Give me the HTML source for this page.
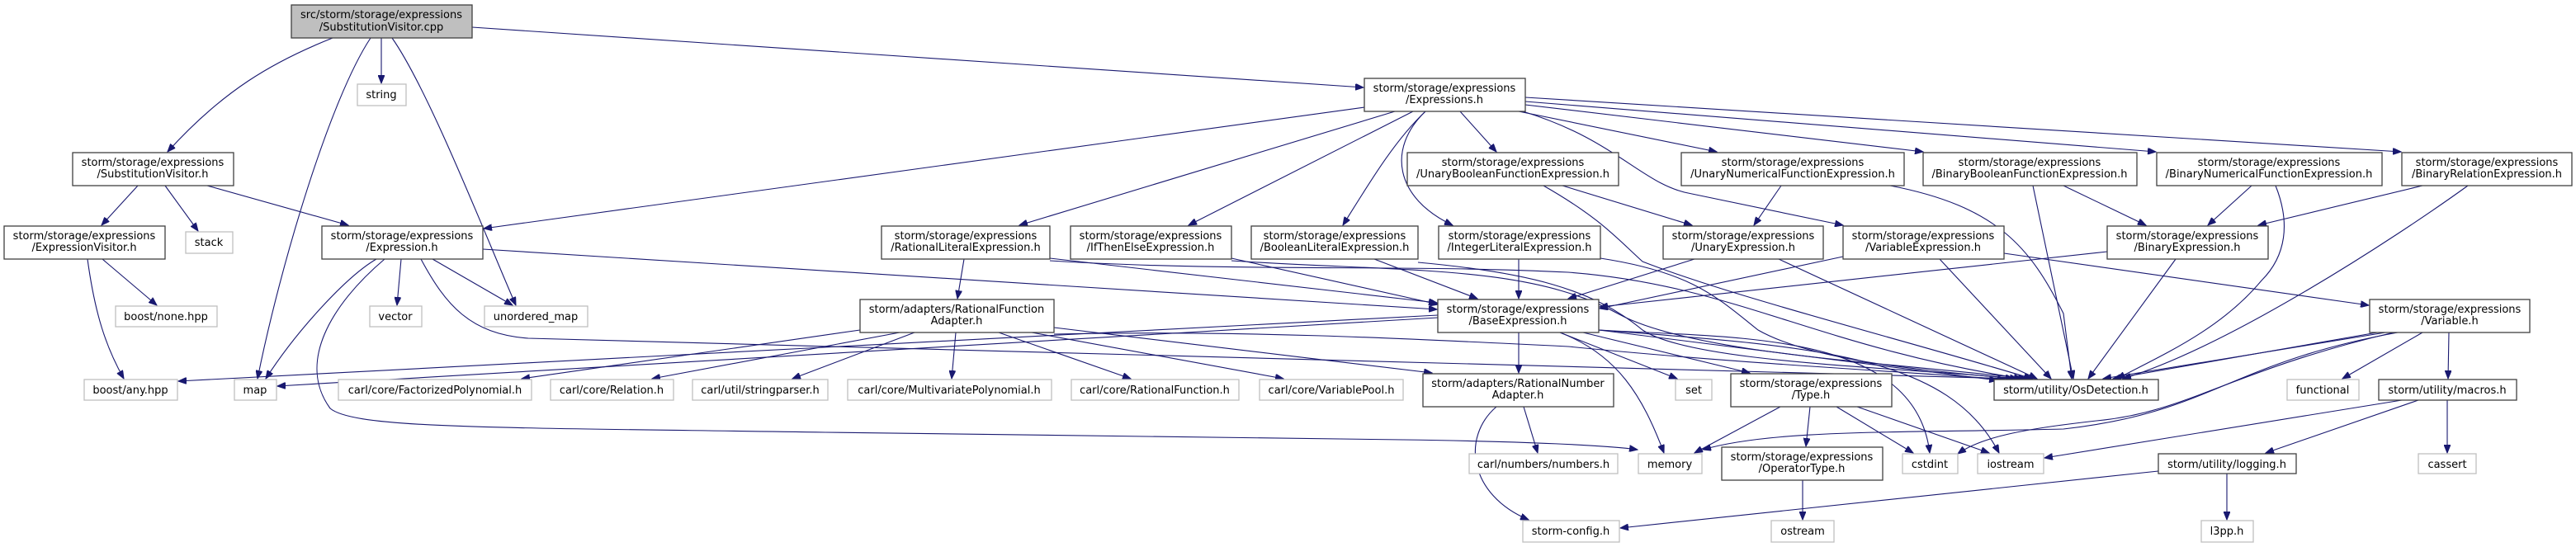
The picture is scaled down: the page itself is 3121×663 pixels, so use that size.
<!DOCTYPE html>
<html><head><meta charset="utf-8"><style>
html,body{margin:0;padding:0;background:#fff}
svg{display:block}
text{font-family:"DejaVu Sans","Liberation Sans",sans-serif;font-size:13px;fill:#000;text-anchor:middle}
.n{fill:#fff;stroke:#404040;stroke-width:1.3}
.g{fill:#fff;stroke:#bfbfbf;stroke-width:1.3}
.r{fill:#bfbfbf;stroke:#404040;stroke-width:1.3}
path{fill:none;stroke:#191970;stroke-width:1.1}
</style></head><body>
<svg width="3121" height="663" viewBox="0 0 3121 663" xmlns="http://www.w3.org/2000/svg">
<defs><marker id="a" markerUnits="userSpaceOnUse" markerWidth="11" markerHeight="8" refX="10" refY="4" orient="auto"><polygon points="0,0 10,4 0,8" style="fill:#191970;stroke:#191970"/></marker></defs>
<g marker-end="url(#a)">
<path d="M403,46 C330,75 270,110 203,184"/>
<path d="M462,46 L462,101"/>
<path d="M449,46 C400,120 340,320 312,459"/>
<path d="M475,46 C520,110 590,290 625,370"/>
<path d="M572,33 L1652,106"/>
<path d="M167,225 L123,273"/>
<path d="M200,225 L240,280"/>
<path d="M251,225 L422,273"/>
<path d="M124,314 L190,370"/>
<path d="M106,314 C115,380 128,420 150,459"/>
<path d="M456,314 C420,335 360,400 322,459"/>
<path d="M486,314 L481,370"/>
<path d="M524,314 L621,370"/>
<path d="M466,314 C400,370 360,440 400,495 C430,520 600,518 1000,524 L1700,533 C1850,535 1950,540 1984,545"/>
<path d="M585,302 L1741,375"/>
<path d="M510,314 C540,370 570,405 640,410 L2440,459"/>
<path d="M1653,130 L586,277"/>
<path d="M1690,135 L1235,273"/>
<path d="M1712,135 L1440,273"/>
<path d="M1727,135 C1690,170 1660,220 1627,273"/>
<path d="M1727,135 C1680,180 1690,240 1760,273"/>
<path d="M1769,135 L1813,184"/>
<path d="M1840,135 L2080,184"/>
<path d="M1848,127 L2330,184"/>
<path d="M1848,123 L2612,184"/>
<path d="M1848,118 L2909,184"/>
<path d="M1845,135 C1960,170 1990,225 2050,235 L2233,273"/>
<path d="M1893,225 L2050,273"/>
<path d="M1870,225 C1940,265 1960,290 1990,317 C2100,360 2300,410 2462,459"/>
<path d="M2158,225 L2125,273"/>
<path d="M2290,225 C2420,250 2460,300 2500,380 L2510,459"/>
<path d="M2500,225 L2600,273"/>
<path d="M2463,225 L2512,459"/>
<path d="M2728,225 L2675,273"/>
<path d="M2757,225 C2775,270 2770,310 2740,340 C2690,400 2620,430 2565,459"/>
<path d="M2935,225 L2736,273"/>
<path d="M2990,225 C2900,290 2700,420 2572,459"/>
<path d="M2553,305 L1938,372"/>
<path d="M2636,314 L2530,459"/>
<path d="M2233,311 L1938,374"/>
<path d="M2350,314 L2485,459"/>
<path d="M2428,307 L2870,370"/>
<path d="M2053,314 L1900,362"/>
<path d="M2155,314 L2468,459"/>
<path d="M1168,314 L1160,362"/>
<path d="M1272,313 L1741,367"/>
<path d="M1272,316 C1500,330 1700,320 1900,330 C2100,345 2200,420 2450,459"/>
<path d="M1492,313 L1743,369"/>
<path d="M1492,316 C1700,330 1850,320 1960,380 C2050,430 2300,440 2455,459"/>
<path d="M1665,314 L1790,362"/>
<path d="M1718,318 C1850,330 1930,350 1990,400 C2050,440 2300,445 2445,459"/>
<path d="M1840,314 L1840,362"/>
<path d="M1939,313 C2050,330 2080,360 2130,400 C2200,440 2350,450 2440,459"/>
<path d="M1840,403 L1840,452"/>
<path d="M1890,403 L2032,459"/>
<path d="M1918,403 L2120,452"/>
<path d="M1890,403 C1960,430 1990,480 2016,549"/>
<path d="M1937,400 C2100,410 2320,400 2338,549"/>
<path d="M1937,400 C2200,420 2360,430 2422,549"/>
<path d="M1937,400 L2420,461"/>
<path d="M1742,385 L336,468"/>
<path d="M1742,382 L216,462"/>
<path d="M1042,400 L632,459"/>
<path d="M1090,403 L790,459"/>
<path d="M1108,403 L960,459"/>
<path d="M1158,403 L1153,459"/>
<path d="M1210,403 L1370,459"/>
<path d="M1250,403 L1555,459"/>
<path d="M1277,397 L1735,452"/>
<path d="M1277,405 C1500,400 1700,410 1900,420 C2100,440 2300,450 2430,460"/>
<path d="M1846,493 L1863,549"/>
<path d="M1813,493 C1770,530 1780,600 1852,630"/>
<path d="M2157,493 L2053,549"/>
<path d="M2193,493 L2188,541"/>
<path d="M2225,493 L2318,549"/>
<path d="M2250,493 L2410,549"/>
<path d="M2184,582 L2184,630"/>
<path d="M2880,403 L2560,459"/>
<path d="M2890,403 L2548,459"/>
<path d="M2905,403 C2700,440 2680,500 2500,520 C2300,525 2150,520 2063,545"/>
<path d="M2900,403 C2700,450 2650,500 2540,510 C2450,520 2400,530 2372,550"/>
<path d="M2935,403 L2838,459"/>
<path d="M2967,403 L2966,459"/>
<path d="M2910,485 L2477,555"/>
<path d="M2930,485 L2745,549"/>
<path d="M2965,485 L2965,549"/>
<path d="M2615,571 L1963,640"/>
<path d="M2698,574 L2698,630"/>
</g>

<rect class="r" x="353" y="6" width="219" height="40"/><text x="462" y="22">src/storm/storage/expressions</text><text x="462" y="37">/SubstitutionVisitor.cpp</text>
<rect class="g" x="433" y="102" width="59" height="26"/><text x="462" y="119">string</text>
<rect class="n" x="88" y="185" width="195" height="40"/><text x="185" y="201">storm/storage/expressions</text><text x="185" y="215">/SubstitutionVisitor.h</text>
<rect class="n" x="5" y="274" width="195" height="40"/><text x="102" y="290">storm/storage/expressions</text><text x="102" y="304">/ExpressionVisitor.h</text>
<rect class="g" x="225" y="281" width="57" height="26"/><text x="253" y="298">stack</text>
<rect class="n" x="390" y="274" width="195" height="40"/><text x="487" y="290">storm/storage/expressions</text><text x="487" y="304">/Expression.h</text>
<rect class="g" x="140" y="371" width="123" height="25"/><text x="201" y="388">boost/none.hpp</text>
<rect class="g" x="448" y="371" width="63" height="25"/><text x="479" y="388">vector</text>
<rect class="g" x="587" y="371" width="125" height="25"/><text x="649" y="388">unordered_map</text>
<rect class="g" x="102" y="460" width="113" height="25"/><text x="158" y="477">boost/any.hpp</text>
<rect class="g" x="284" y="460" width="51" height="25"/><text x="309" y="477">map</text>
<rect class="g" x="410" y="460" width="234" height="25"/><text x="527" y="477">carl/core/FactorizedPolynomial.h</text>
<rect class="g" x="667" y="460" width="149" height="25"/><text x="741" y="477">carl/core/Relation.h</text>
<rect class="g" x="839" y="460" width="164" height="25"/><text x="921" y="477">carl/util/stringparser.h</text>
<rect class="g" x="1027" y="460" width="247" height="25"/><text x="1150" y="477">carl/core/MultivariatePolynomial.h</text>
<rect class="n" x="1068" y="274" width="204" height="40"/><text x="1170" y="290">storm/storage/expressions</text><text x="1170" y="304">/RationalLiteralExpression.h</text>
<rect class="n" x="1042" y="363" width="235" height="40"/><text x="1159" y="379">storm/adapters/RationalFunction</text><text x="1159" y="393">Adapter.h</text>
<rect class="n" x="1653" y="95" width="195" height="40"/><text x="1750" y="111">storm/storage/expressions</text><text x="1750" y="125">/Expressions.h</text>
<rect class="n" x="1705" y="185" width="256" height="40"/><text x="1833" y="201">storm/storage/expressions</text><text x="1833" y="215">/UnaryBooleanFunctionExpression.h</text>
<rect class="n" x="1297" y="274" width="195" height="40"/><text x="1394" y="290">storm/storage/expressions</text><text x="1394" y="304">/IfThenElseExpression.h</text>
<rect class="n" x="1516" y="274" width="202" height="40"/><text x="1617" y="290">storm/storage/expressions</text><text x="1617" y="304">/BooleanLiteralExpression.h</text>
<rect class="n" x="1743" y="274" width="196" height="40"/><text x="1841" y="290">storm/storage/expressions</text><text x="1841" y="304">/IntegerLiteralExpression.h</text>
<rect class="n" x="1742" y="363" width="195" height="40"/><text x="1839" y="379">storm/storage/expressions</text><text x="1839" y="393">/BaseExpression.h</text>
<rect class="g" x="1298" y="460" width="203" height="25"/><text x="1399" y="477">carl/core/RationalFunction.h</text>
<rect class="g" x="1526" y="460" width="174" height="25"/><text x="1613" y="477">carl/core/VariablePool.h</text>
<rect class="n" x="1724" y="453" width="231" height="40"/><text x="1839" y="469">storm/adapters/RationalNumber</text><text x="1839" y="483">Adapter.h</text>
<rect class="g" x="1780" y="550" width="180" height="24"/><text x="1870" y="567">carl/numbers/numbers.h</text>
<rect class="n" x="2037" y="185" width="270" height="40"/><text x="2172" y="201">storm/storage/expressions</text><text x="2172" y="215">/UnaryNumericalFunctionExpression.h</text>
<rect class="n" x="2330" y="185" width="259" height="40"/><text x="2459" y="201">storm/storage/expressions</text><text x="2459" y="215">/BinaryBooleanFunctionExpression.h</text>
<rect class="n" x="2015" y="274" width="194" height="40"/><text x="2112" y="290">storm/storage/expressions</text><text x="2112" y="304">/UnaryExpression.h</text>
<rect class="n" x="2233" y="274" width="195" height="40"/><text x="2330" y="290">storm/storage/expressions</text><text x="2330" y="304">/VariableExpression.h</text>
<rect class="g" x="2030" y="460" width="44" height="25"/><text x="2052" y="477">set</text>
<rect class="n" x="2097" y="453" width="195" height="40"/><text x="2194" y="469">storm/storage/expressions</text><text x="2194" y="483">/Type.h</text>
<rect class="n" x="2416" y="460" width="199" height="25"/><text x="2515" y="477">storm/utility/OsDetection.h</text>
<rect class="g" x="1985" y="550" width="77" height="24"/><text x="2023" y="567">memory</text>
<rect class="n" x="2086" y="542" width="195" height="40"/><text x="2183" y="558">storm/storage/expressions</text><text x="2183" y="572">/OperatorType.h</text>
<rect class="g" x="2305" y="550" width="67" height="24"/><text x="2338" y="567">cstdint</text>
<rect class="g" x="2396" y="550" width="80" height="24"/><text x="2436" y="567">iostream</text>
<rect class="g" x="1845" y="631" width="117" height="26"/><text x="1903" y="648">storm-config.h</text>
<rect class="g" x="2146" y="631" width="76" height="26"/><text x="2184" y="648">ostream</text>
<rect class="n" x="2613" y="185" width="273" height="40"/><text x="2749" y="201">storm/storage/expressions</text><text x="2749" y="215">/BinaryNumericalFunctionExpression.h</text>
<rect class="n" x="2910" y="185" width="206" height="40"/><text x="3013" y="201">storm/storage/expressions</text><text x="3013" y="215">/BinaryRelationExpression.h</text>
<rect class="n" x="2553" y="274" width="195" height="40"/><text x="2650" y="290">storm/storage/expressions</text><text x="2650" y="304">/BinaryExpression.h</text>
<rect class="n" x="2871" y="363" width="194" height="40"/><text x="2968" y="379">storm/storage/expressions</text><text x="2968" y="393">/Variable.h</text>
<rect class="g" x="2771" y="460" width="87" height="25"/><text x="2814" y="477">functional</text>
<rect class="n" x="2882" y="460" width="167" height="25"/><text x="2965" y="477">storm/utility/macros.h</text>
<rect class="n" x="2615" y="550" width="167" height="24"/><text x="2698" y="567">storm/utility/logging.h</text>
<rect class="g" x="2930" y="550" width="70" height="24"/><text x="2965" y="567">cassert</text>
<rect class="g" x="2667" y="631" width="63" height="26"/><text x="2698" y="648">l3pp.h</text>
</svg>
</body></html>
